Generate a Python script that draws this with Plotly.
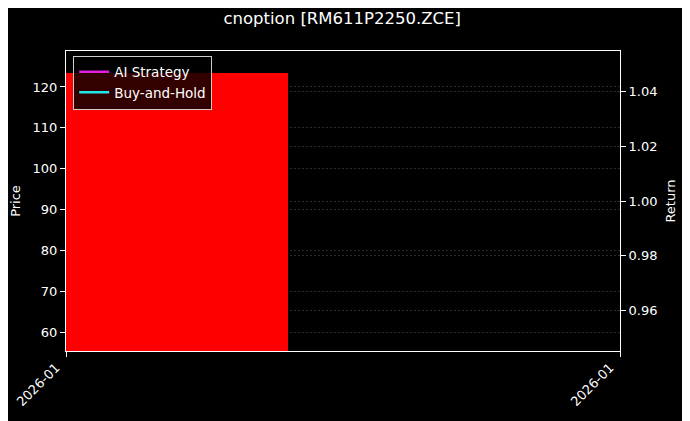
import plotly.graph_objects as go

# Données
title = "cnoption [RM611P2250.ZCE]"
tick_labels = ["2026-01", "2026-01"]
tick_pos = [0, 1]

# bloc rouge (prix)
bar_x = [0.2]
bar_width = [0.4]
bar_price = [123.3]

# courbes de rendement (un seul point à 1.0)
ret_x = [0]
ai_strategy = [1.0]
buy_and_hold = [1.0]

price_range = [55.35, 128.8]
return_range = [0.945, 1.055]

FONT = "DejaVu Sans"


def build_figure():
    fig = go.Figure()

    fig.add_trace(go.Bar(
        x=bar_x, y=bar_price, width=bar_width,
        marker=dict(color="#ff0000", line=dict(width=0)),
        showlegend=False, hoverinfo="skip"
    ))

    # AI Strategy
    fig.add_trace(go.Scatter(
        x=ret_x, y=ai_strategy, yaxis="y2", mode="lines",
        line=dict(color="#e020e0", width=2.5), name="AI Strategy"
    ))

    # Buy-and-Hold
    fig.add_trace(go.Scatter(
        x=ret_x, y=buy_and_hold, yaxis="y2", mode="lines",
        line=dict(color="#20e8e8", width=2.5), name="Buy-and-Hold"
    ))

    grid = dict(showgrid=True, gridcolor="#2c2c2c", griddash="2px,2px", gridwidth=0.6)

    # la page ajoute une marge de 8px : la figure est réduite d'autant
    fig.update_layout(
        width=682, height=413,
        paper_bgcolor="black", plot_bgcolor="black",
        font=dict(family=FONT, color="white", size=13),
        title=dict(text=title, x=0.49, xanchor="center", y=0.976, yanchor="middle",
                   font=dict(size=16.5, color="white")),
        margin=dict(l=58, r=70, t=43, b=70, autoexpand=False),
        bargap=0,
        xaxis=dict(
            range=[0, 1], tickvals=tick_pos, ticktext=tick_labels, tickangle=-45,
            ticklabelshift=-10, ticklabelstandoff=-2, ticklabeloverflow="allow",
            showgrid=False, zeroline=False, automargin=False,
            showline=True, linecolor="white", linewidth=1, mirror=True,
            ticks="outside", tickcolor="white", ticklen=5,
        ),
        yaxis=dict(
            title=dict(text="Price", font=dict(size=13), standoff=16),
            range=price_range, dtick=10, zeroline=False, automargin=False,
            showline=True, linecolor="white", linewidth=1,
            ticks="outside", tickcolor="white", ticklen=5, **grid
        ),
        yaxis2=dict(
            title=dict(text="Return", font=dict(size=13), standoff=9),
            range=return_range, dtick=0.02, tickformat=".2f",
            overlaying="y", side="right", zeroline=False, automargin=False,
            showline=True, linecolor="white", linewidth=1,
            ticks="outside", tickcolor="white", ticklen=5, **grid
        ),
        legend=dict(
            x=0.013, y=0.985, xanchor="left", yanchor="top",
            bgcolor="rgba(0,0,0,0.8)", bordercolor="#cccccc", borderwidth=1,
            font=dict(size=13.5, color="white"),
        ),
    )
    return fig


def main():
    fig = build_figure()
    fig.write_html("out.html")


if __name__ == "__main__":
    main()
